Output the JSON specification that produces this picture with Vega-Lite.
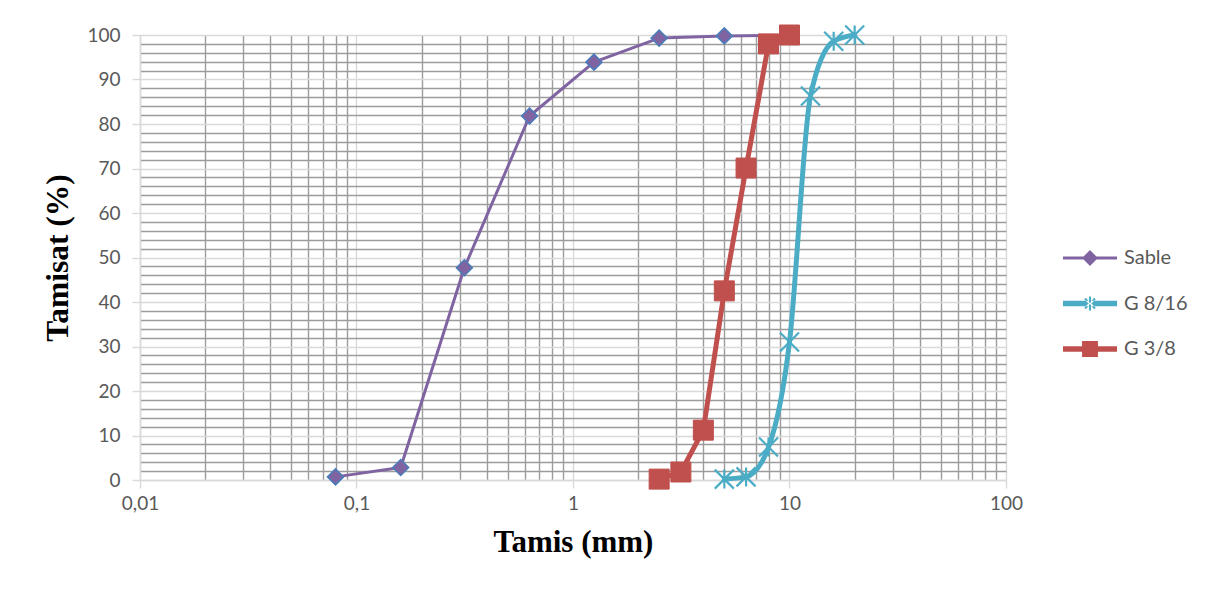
{
  "$schema": "https://vega.github.io/schema/vega-lite/v6.json",
  "width": 866,
  "height": 445,
  "autosize": {"type": "none"},
  "padding": {"left": 140, "top": 35, "right": 207, "bottom": 121},
  "background": "white",
  "config": {"view": {"stroke": null}},
  "data": {
    "values": [
      {"s": "Sable", "d": 0.08, "p": 0.7},
      {"s": "Sable", "d": 0.16, "p": 2.8},
      {"s": "Sable", "d": 0.315, "p": 47.7},
      {"s": "Sable", "d": 0.63, "p": 81.8},
      {"s": "Sable", "d": 1.25, "p": 93.9},
      {"s": "Sable", "d": 2.5, "p": 99.3},
      {"s": "Sable", "d": 5, "p": 99.8},
      {"s": "Sable", "d": 8, "p": 99.9},
      {"s": "G 8/16", "d": 5, "p": 0.2},
      {"s": "G 8/16", "d": 6.3, "p": 0.7},
      {"s": "G 8/16", "d": 8, "p": 7.4},
      {"s": "G 8/16", "d": 10, "p": 31.0},
      {"s": "G 8/16", "d": 12.5, "p": 86.3},
      {"s": "G 8/16", "d": 16, "p": 98.6},
      {"s": "G 8/16", "d": 20, "p": 100},
      {"s": "G 3/8", "d": 2.5, "p": 0.2},
      {"s": "G 3/8", "d": 3.15, "p": 1.8},
      {"s": "G 3/8", "d": 4, "p": 11.2},
      {"s": "G 3/8", "d": 5, "p": 42.5},
      {"s": "G 3/8", "d": 6.3, "p": 70.1},
      {"s": "G 3/8", "d": 8, "p": 98.0},
      {"s": "G 3/8", "d": 10, "p": 100}
    ]
  },
  "encoding": {
    "x": {
      "field": "d",
      "type": "quantitative",
      "scale": {"type": "log", "domain": [0.01, 100], "nice": false},
      "axis": {
        "values": [0.01, 0.02, 0.03, 0.04, 0.05, 0.06, 0.07, 0.08, 0.09, 0.1, 0.2, 0.3, 0.4, 0.5, 0.6, 0.7, 0.8, 0.9, 1, 2, 3, 4, 5, 6, 7, 8, 9, 10, 20, 30, 40, 50, 60, 70, 80, 90, 100],
        "labelExpr": "indexof([0.01, 0.1, 1, 10, 100], datum.value) >= 0 ? replace(toString(datum.value), '.', ',') : ''",
        "gridColor": {"condition": {"test": "indexof([0.01, 0.1, 1, 10, 100], datum.value) >= 0", "value": "#d9d9d9"}, "value": "#9c9c9c"},
        "tickOpacity": {"condition": {"test": "indexof([0.01, 0.1, 1, 10, 100], datum.value) >= 0", "value": 1}, "value": 0},
        "grid": true,
        "gridWidth": 1.4,
        "tickColor": "#d9d9d9",
        "tickWidth": 1.4,
        "tickSize": 8,
        "domainColor": "#d9d9d9",
        "domainWidth": 1.4,
        "labelFont": "Lato",
        "labelFontSize": 19,
        "labelColor": "#595959",
        "labelPadding": 6,
        "labelOverlap": false,
        "labelFlush": false,
        "title": "Tamis (mm)",
        "titleFont": "Liberation Serif",
        "titleFontSize": 31,
        "titleFontWeight": "bold",
        "titleColor": "#000000",
        "titlePadding": 14
      }
    },
    "y": {
      "field": "p",
      "type": "quantitative",
      "scale": {"domain": [0, 100], "nice": false},
      "axis": {
        "values": [0, 2, 4, 6, 8, 10, 12, 14, 16, 18, 20, 22, 24, 26, 28, 30, 32, 34, 36, 38, 40, 42, 44, 46, 48, 50, 52, 54, 56, 58, 60, 62, 64, 66, 68, 70, 72, 74, 76, 78, 80, 82, 84, 86, 88, 90, 92, 94, 96, 98, 100],
        "labelExpr": "datum.value % 10 === 0 ? datum.label : ''",
        "gridColor": {"condition": {"test": "datum.value % 10 === 0", "value": "#d9d9d9"}, "value": "#9c9c9c"},
        "tickOpacity": {"condition": {"test": "datum.value % 10 === 0", "value": 1}, "value": 0},
        "grid": true,
        "gridWidth": 1.4,
        "tickColor": "#d9d9d9",
        "tickWidth": 1.4,
        "tickSize": 8,
        "domainColor": "#d9d9d9",
        "domainWidth": 1.4,
        "labelFont": "Lato",
        "labelFontSize": 19,
        "labelColor": "#595959",
        "labelPadding": 12,
        "labelOverlap": false,
        "title": "Tamisat (%)",
        "titleFont": "Liberation Serif",
        "titleFontSize": 31.5,
        "titleFontWeight": "bold",
        "titleColor": "#000000",
        "titlePadding": 12
      }
    }
  },
  "layer": [
    {
      "transform": [{"filter": "datum.s === 'Sable'"}],
      "mark": {"type": "line", "color": "#8064a2", "strokeWidth": 3, "strokeJoin": "round"}
    },
    {
      "transform": [{"filter": "datum.s === 'Sable' && datum.d <= 5"}],
      "mark": {"type": "point", "shape": "diamond", "filled": true, "fill": "#8064a2", "stroke": "#4a7ebb", "strokeWidth": 1.5, "size": 256, "opacity": 1}
    },
    {
      "transform": [{"filter": "datum.s === 'G 8/16'"}],
      "mark": {"type": "line", "color": "#4bacc6", "strokeWidth": 5, "interpolate": "monotone", "strokeJoin": "round", "strokeCap": "round"}
    },
    {
      "transform": [{"filter": "datum.s === 'G 8/16'"}],
      "mark": {"type": "point", "shape": "M-1,-1L1,1M-1,1L1,-1M0,-1L0,1", "filled": false, "stroke": "#4bacc6", "strokeWidth": 2.2, "size": 361, "opacity": 1}
    },
    {
      "transform": [{"filter": "datum.s === 'G 3/8'"}],
      "mark": {"type": "line", "color": "#c0504d", "strokeWidth": 5, "strokeJoin": "round"}
    },
    {
      "transform": [{"filter": "datum.s === 'G 3/8'"}],
      "mark": {"type": "point", "shape": "square", "filled": true, "fill": "#c0504d", "stroke": "#c0504d", "strokeWidth": 1, "size": 400, "opacity": 1}
    },
    {
      "mark": {"type": "point", "filled": true, "opacity": 0, "size": 10},
      "encoding": {
        "color": {
          "field": "s",
          "type": "nominal",
          "scale": {"domain": ["Sable", "G 8/16", "G 3/8"], "range": ["#8064a2", "#4bacc6", "#c0504d"]},
          "legend": {
            "title": null,
            "orient": "none",
            "legendX": 935,
            "legendY": 208,
            "padding": 0,
            "symbolSize": 900,
            "symbolOpacity": 1,
            "symbolStrokeWidth": 0,
            "labelOffset": 19,
            "rowPadding": 20.5,
            "labelFont": "Lato",
            "labelFontSize": 20,
            "labelColor": "#595959"
          }
        },
        "shape": {
          "field": "s",
          "type": "nominal",
          "scale": {
            "domain": ["Sable", "G 8/16", "G 3/8"],
            "range": [
              "M-1.8,-0.1H1.8V0.1H-1.8Z M0,-0.53L0.53,0L0,0.53L-0.53,0Z",
              "M-1.8,-0.18H1.8V0.18H-1.8Z M-0.067,-0.47H0.067V0.47H-0.067Z M-0.38,-0.29L0.29,0.38L0.38,0.29L-0.29,-0.38Z M-0.38,0.29L-0.29,0.38L0.38,-0.29L0.29,-0.38Z",
              "M-1.8,-0.18H1.8V0.18H-1.8Z M-0.53,-0.53H0.53V0.53H-0.53Z"
            ]
          },
          "legend": {
            "title": null,
            "orient": "none",
            "legendX": 935,
            "legendY": 208,
            "padding": 0,
            "symbolSize": 900,
            "symbolOpacity": 1,
            "symbolStrokeWidth": 0,
            "labelOffset": 19,
            "rowPadding": 20.5,
            "labelFont": "Lato",
            "labelFontSize": 20,
            "labelColor": "#595959"
          }
        }
      }
    }
  ]
}
